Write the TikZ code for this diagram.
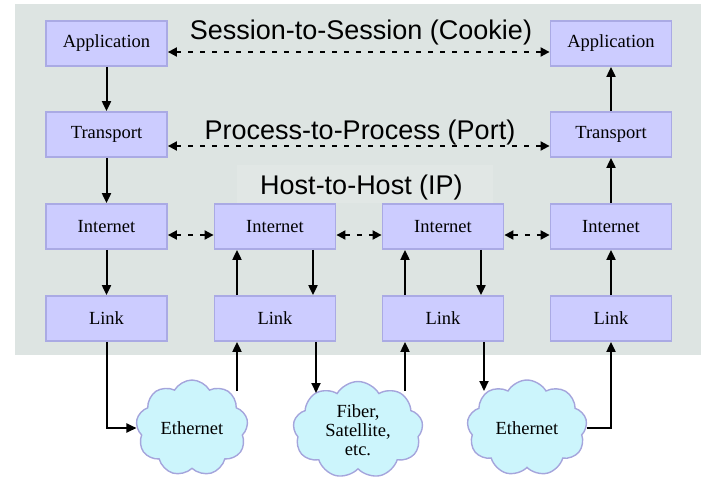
\documentclass[tikz,border=0pt]{standalone}
\usepackage{fontspec}
\setmainfont{Liberation Serif}
\newfontfamily\labelfont{Liberation Sans}
\usetikzlibrary{arrows.meta,shapes.symbols}

\definecolor{panel}{RGB}{221,228,226}
\definecolor{panellight}{RGB}{225,231,229}
\definecolor{layerfill}{RGB}{204,204,255}
\definecolor{layerline}{RGB}{170,170,228}
\definecolor{cloudfill}{RGB}{204,245,252}
\definecolor{cloudline}{RGB}{165,165,220}

\tikzset{
  layer/.style={draw=layerline, line width=1.8pt, fill=layerfill,
    minimum width=121pt, minimum height=45pt, inner sep=0pt,
    font=\fontsize{18.5}{20}\selectfont},
  net/.style={cloud, cloud puffs=9, cloud puff arc=120, aspect=1.2,
    draw=cloudline, line width=1.4pt, fill=cloudfill, inner sep=0pt,
    align=center, font=\fontsize{18.5}{19}\selectfont},
  span/.style={font=\labelfont\fontsize{27}{30}\selectfont, inner sep=0pt, anchor=base},
  arr/.style={line width=2pt, -{Triangle[length=10pt,width=9pt]}},
  peer/.style={line width=1.9pt, dash pattern=on 5pt off 7pt,
    {Triangle[length=9pt,width=9pt]}-{Triangle[length=9pt,width=9pt]}},
}

\begin{document}
\begin{tikzpicture}[x=1pt,y=-1pt]
  \useasboundingbox (0,0) rectangle (701,480);
  % shaded protocol-stack panel
  \fill[panel] (15,4) rectangle (701,355);
  \fill[panellight] (237,165) rectangle (493,203);

  % layer boxes: four hosts/routers
  \foreach \c/\x in {1/106.5,2/275,3/443,4/611}{
    \node[layer] (int\c) at (\x,226.5) {Internet};
    \node[layer] (link\c) at (\x,318.5) {Link};
  }
  \node[layer] (app1) at (106.5,43.5) {Application};
  \node[layer] (tr1) at (106.5,134.5) {Transport};
  \node[layer] (app4) at (611,43.5) {Application};
  \node[layer] (tr4) at (611,134.5) {Transport};

  % networks
  \node[net, minimum width=112pt, minimum height=96pt] (eth1) at (192,428) {Ethernet};
  \node[net, minimum width=130pt, minimum height=97pt] (fib) at (358,430) {Fiber,\\Satellite,\\etc.};
  \node[net, minimum width=120pt, minimum height=96pt] (eth2) at (527,428) {Ethernet};

  % scope labels
  \node[span] (lsess) at (361,39) {Session-to-Session (Cookie)};
  \node[span] (lproc) at (360,139) {Process-to-Process (Port)};
  \node[span] (lhost) at (361.5,194) {Host-to-Host (IP)};

  % logical peer connections
  \draw[peer] ([yshift=-8.5pt]app1.east) -- ([yshift=-8.5pt]app4.west);
  \draw[peer] ([yshift=-11.5pt]tr1.east) -- ([yshift=-11.5pt]tr4.west);
  \draw[peer] ([yshift=-8.5pt]int1.east) -- ([yshift=-8.5pt]int2.west);
  \draw[peer] ([yshift=-8.5pt]int2.east) -- ([yshift=-8.5pt]int3.west);
  \draw[peer] ([yshift=-8.5pt]int3.east) -- ([yshift=-8.5pt]int4.west);

  % data path down the sending stack
  \draw[arr] (app1) -- (tr1);
  \draw[arr] (tr1) -- (int1);
  \draw[arr] (int1) -- (link1);
  \draw[arr] (link1.south) |- (eth1.west);

  % first router
  \coordinate (e1top) at (237,391);
  \draw[arr] (e1top) -- (e1top |- link2.south);
  \draw[arr] ([xshift=-38pt]link2.north) -- ([xshift=-38pt]int2.south);
  \draw[arr] ([xshift=38pt]int2.south) -- ([xshift=38pt]link2.north);
  \coordinate (f1top) at (316,393);
  \draw[arr] (f1top |- link2.south) -- (f1top);

  % second router
  \coordinate (f2top) at (405,391);
  \draw[arr] (f2top) -- (f2top |- link3.south);
  \draw[arr] ([xshift=-38pt]link3.north) -- ([xshift=-38pt]int3.south);
  \draw[arr] ([xshift=38pt]int3.south) -- ([xshift=38pt]link3.north);
  \coordinate (e2top) at (484,391);
  \draw[arr] (e2top |- link3.south) -- (e2top);

  % data path up the receiving stack
  \draw[arr] (eth2.east) -| (link4.south);
  \draw[arr] (link4) -- (int4);
  \draw[arr] (int4) -- (tr4);
  \draw[arr] (tr4) -- (app4);
\end{tikzpicture}
\end{document}
